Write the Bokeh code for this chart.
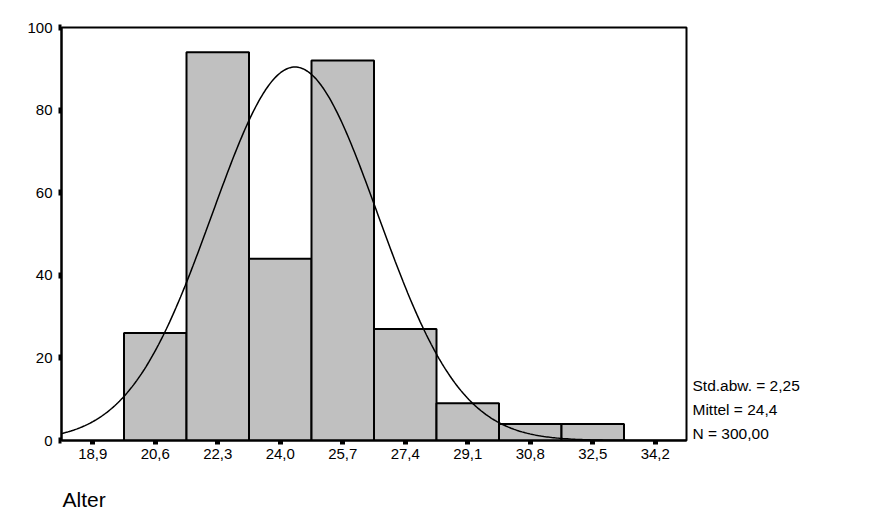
import numpy as np
from bokeh.plotting import figure
from bokeh.models import Range1d, FixedTicker, LinearAxis
from bokeh.embed import file_html
from bokeh.resources import INLINE

# Data
bin_centers = [20.6, 22.3, 24.0, 25.7, 27.4, 29.1, 30.8, 32.5]
counts = [26, 94, 44, 92, 27, 9, 4, 4]
bin_width = 1.7
x_ticks = [18.9, 20.6, 22.3, 24.0, 25.7, 27.4, 29.1, 30.8, 32.5, 34.2]
x_tick_labels = ["18,9", "20,6", "22,3", "24,0", "25,7", "27,4", "29,1", "30,8", "32,5", "34,2"]
y_ticks = [0, 20, 40, 60, 80, 100]

# Summary statistics shown on the chart
std_dev = 2.25
mean = 24.4
n_total = 300
stats_lines = ["Std.abw. = 2,25", "Mittel = 24,4", "N = 300,00"]
stats_y = [13.3, 7.5, 1.8]   # vertical placement of the statistics lines (axis units)
axis_title = "Alter"
axis_title_x = 18.665        # horizontal centre of the axis title (axis units)

FONT = "Liberation Sans"

x_lo, x_hi = 18.05, 35.05
p = figure(width=861, height=518, output_backend="svg", toolbar_location=None,
           x_range=Range1d(x_lo, x_hi), y_range=Range1d(0, 100),
           min_border_left=61, min_border_right=175, min_border_top=27, min_border_bottom=78)
p.background_fill_color = "white"
p.border_fill_color = "white"
p.outline_line_color = "black"
p.outline_line_width = 2
p.xgrid.grid_line_color = None
p.ygrid.grid_line_color = None

p.vbar(x=bin_centers, top=counts, bottom=0, width=bin_width,
       fill_color="#c0c0c0", line_color="black", line_width=2)

# Fitted normal curve from the shown statistics
xs = np.linspace(x_lo, x_hi, 400)
ys = n_total * bin_width / (std_dev * np.sqrt(2 * np.pi)) * np.exp(-0.5 * ((xs - mean) / std_dev) ** 2)
p.line(xs, ys, line_color="black", line_width=1.5)

# Axes
p.xaxis.ticker = FixedTicker(ticks=x_ticks)
p.xaxis.major_label_overrides = {t: l for t, l in zip(x_ticks, x_tick_labels)}
p.yaxis.ticker = FixedTicker(ticks=y_ticks)
for ax in (p.xaxis[0], p.yaxis[0]):
    ax.axis_line_color = "black"
    ax.axis_line_width = 2
    ax.major_tick_line_color = "black"
    ax.minor_tick_line_color = None
    ax.major_tick_in = 0
    ax.major_label_text_font = FONT
    ax.major_label_text_font_size = "15px"
    ax.major_label_text_color = "black"
p.xaxis.major_tick_out = 4
p.xaxis.major_tick_line_width = 5
p.xaxis.major_label_standoff = 4
p.yaxis.major_tick_out = 3
p.yaxis.major_tick_line_width = 6
p.yaxis.major_label_standoff = 6


def text_axis(ticks, labels, size, standoff):
    ax = LinearAxis(ticker=FixedTicker(ticks=ticks),
                    major_label_overrides={t: s for t, s in zip(ticks, labels)})
    ax.axis_line_color = None
    ax.major_tick_line_color = None
    ax.minor_tick_line_color = None
    ax.major_tick_in = 0
    ax.major_tick_out = 0
    ax.major_label_standoff = standoff
    ax.major_label_text_font = FONT
    ax.major_label_text_font_size = size
    ax.major_label_text_color = "black"
    return ax


# Statistics text to the right of the plot
p.add_layout(text_axis(stats_y, stats_lines, "15.5px", 6), "right")

# Axis title below the tick labels
p.add_layout(text_axis([axis_title_x], [axis_title], "21px", 26), "below")

open("out.html", "w").write(file_html(p, INLINE))
